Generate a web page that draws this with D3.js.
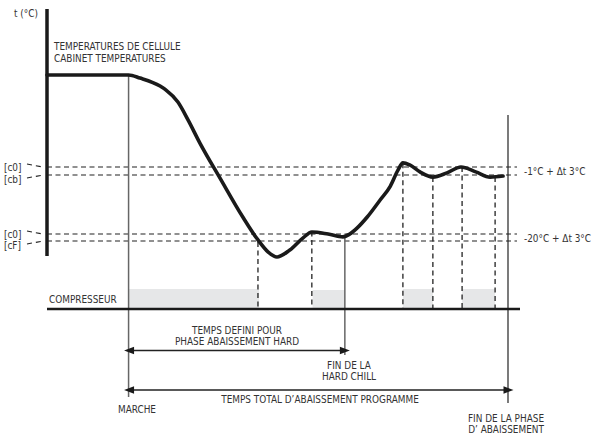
<!DOCTYPE html>
<html><head><meta charset="utf-8">
<script src="https://cdn.jsdelivr.net/npm/d3@7/dist/d3.min.js"></script>
<style>
html,body{margin:0;padding:0;background:#fff;}
svg{display:block;}
text{font-family:"Liberation Sans Narrow","DejaVu Sans Condensed","Liberation Sans",sans-serif;fill:#333;font-size:11px;}
</style></head>
<body>
<script>
// ---- data ----
const times = [-21.5, 0, 3.0, 8.3, 9.8, 13.0, 15.7, 18.8, 24.1, 30.1, 34.1, 36.8, 39.1, 42.5, 46.0, 48.3, 52.6, 56.5, 58.3, 60.2, 62.9, 66.3, 69.0, 71.0, 72.3, 74.1, 76.8, 80.2, 83.9, 87.6, 91.5, 95.3, 98.7];
const temps = [27.8, 27.8, 26.9, 24.6, 23.5, 20.0, 14.8, 8.2, -1.9, -13.1, -19.7, -23.2, -24.6, -22.6, -19.1, -17.4, -18.0, -18.8, -18.0, -16.3, -13.1, -8.2, -4.2, 0.4, 2.5, 1.9, -0.1, -1.6, -0.4, 1.3, -0.1, -1.6, -1.3];
const levelLabels = ["[c0]", "[cb]", "[c0]", "[cF]"];
const levelValues = [1.3, -1, -18, -20];
const rightLabels = ["-1°C + \u0394t  3°C", "-20°C + \u0394t  3°C"];
const compStart = [0, 48.5, 72.3, 87.9];
const compEnd = [34.4, 57, 80.2, 96.6];
const compLevel = [1, 0.95, 1, 1];
const eventTimes = [34.1, 48.3, 72.3, 80.2, 87.9, 96.6];
const eventTemps = [-20.3, -17.3, 2.4, -1.6, 1.3, -1.6];
const tStart = 0, tHardEnd = 57, tEnd = 100;

const W = 604, H = 436;
const svg = d3.select("body").append("svg").attr("width", W).attr("height", H);

const x = d3.scaleLinear().domain([-21.5, 100]).range([47, 508]);
const y = d3.scaleLinear().domain([-20, -1]).range([241, 175]);
const yc = d3.scaleLinear().domain([0, 1]).range([309, 289]);
const axisX = x(-21.5);
const baseY = yc(0);
const dash = "5,3.5";
const SX = 0.9;

function txt(s, xx, yy, anchor, size) {
  svg.append("text").attr("transform", `translate(${xx},${yy}) scale(${SX},1)`)
    .attr("text-anchor", anchor || "start")
    .attr("font-size", size || 10.5).text(s);
}

// compressor bars
svg.selectAll("rect.comp").data(compStart).enter().append("rect")
  .attr("x", (d) => x(d)).attr("width", (d, i) => x(compEnd[i]) - x(d))
  .attr("y", (d, i) => yc(compLevel[i])).attr("height", (d, i) => baseY - yc(compLevel[i]))
  .attr("fill", "#e6e7e8");

// horizontal dashed level lines
svg.selectAll("line.lvl").data(levelValues).enter().append("line")
  .attr("x1", axisX).attr("x2", 517).attr("y1", (d) => y(d)).attr("y2", (d) => y(d))
  .attr("stroke", "#222").attr("stroke-width", 1.1).attr("stroke-dasharray", dash);

// left labels and leaders
levelLabels.forEach((d, i) => txt(d, 4, y(levelValues[i]) + (i % 2 === 0 ? 3.5 : 8), "start", 10.5));
svg.selectAll("line.lead").data(levelValues).enter().append("line")
  .attr("x1", 27).attr("x2", 43)
  .attr("y1", (d, i) => y(d) + (i % 2 === 0 ? -3 : 3)).attr("y2", (d) => y(d))
  .attr("stroke", "#222").attr("stroke-width", 1.1).attr("stroke-dasharray", "5,4");

// right labels
rightLabels.forEach((d, i) => txt(d, 524, (y(levelValues[i * 2]) + y(levelValues[i * 2 + 1])) / 2 + 4, "start", 10.5));

// vertical dashed event lines
svg.selectAll("line.ev").data(eventTimes).enter().append("line")
  .attr("x1", (d) => x(d)).attr("x2", (d) => x(d))
  .attr("y1", (d, i) => y(eventTemps[i])).attr("y2", baseY)
  .attr("stroke", "#222").attr("stroke-width", 1.3).attr("stroke-dasharray", dash);

// solid vertical lines
svg.append("line").attr("x1", x(tStart)).attr("x2", x(tStart)).attr("y1", y(temps[1])).attr("y2", 397)
  .attr("stroke", "#666").attr("stroke-width", 1.5);
svg.append("line").attr("x1", x(tHardEnd)).attr("x2", x(tHardEnd)).attr("y1", y(-18.8)).attr("y2", 355)
  .attr("stroke", "#666").attr("stroke-width", 1.5);
svg.append("line").attr("x1", x(tEnd)).attr("x2", x(tEnd)).attr("y1", 115).attr("y2", 403)
  .attr("stroke", "#222").attr("stroke-width", 1.2);

// baseline
svg.append("line").attr("x1", axisX).attr("x2", 520).attr("y1", baseY).attr("y2", baseY)
  .attr("stroke", "#1a1a1a").attr("stroke-width", 2.6);

// y axis
svg.append("line").attr("x1", axisX).attr("x2", axisX).attr("y1", 9).attr("y2", 256)
  .attr("stroke", "#1a1a1a").attr("stroke-width", 3.5);

// curve
const line = d3.line().x((d) => x(d[0])).y((d) => y(d[1])).curve(d3.curveMonotoneX);
svg.append("path").datum(times.map((t, i) => [t, temps[i]]))
  .attr("d", line).attr("fill", "none").attr("stroke", "#1a1a1a")
  .attr("stroke-width", 3.6).attr("stroke-linejoin", "round").attr("stroke-linecap", "round");

// arrows
function arrow(x1, x2, yy) {
  svg.append("line").attr("x1", x1 + 6).attr("x2", x2 - 6).attr("y1", yy).attr("y2", yy)
    .attr("stroke", "#222").attr("stroke-width", 1.4);
  svg.append("path").attr("d", `M${x1},${yy}L${x1 + 10},${yy - 3.8}L${x1 + 10},${yy + 3.8}Z`).attr("fill", "#1a1a1a");
  svg.append("path").attr("d", `M${x2},${yy}L${x2 - 10},${yy - 3.8}L${x2 - 10},${yy + 3.8}Z`).attr("fill", "#1a1a1a");
}
arrow(x(tStart) - 4.5, x(tHardEnd) + 5, 350.5);
arrow(x(tStart) - 4.5, x(tEnd) + 5.5, 390);

// texts
txt("t  (°C)", 14, 17);
txt("TEMPERATURES DE CELLULE", 54, 50, "start", 11);
txt("CABINET TEMPERATURES", 54, 62, "start", 11);
txt("COMPRESSEUR", 49, 302.5, "start", 11);
txt("TEMPS DEFINI POUR", 237, 334, "middle");
txt("PHASE ABAISSEMENT HARD", 237, 344.5, "middle");
txt("FIN DE LA", 349, 369, "middle");
txt("HARD CHILL", 349, 380, "middle");
txt("TEMPS TOTAL D\u2019ABAISSEMENT PROGRAMME", 320, 403, "middle", 11);
txt("MARCHE", 137, 413, "middle", 11);
txt("FIN DE LA PHASE", 506, 422, "middle");
txt("D\u2019 ABAISSEMENT", 506, 432.5, "middle");
</script>
</body></html>
